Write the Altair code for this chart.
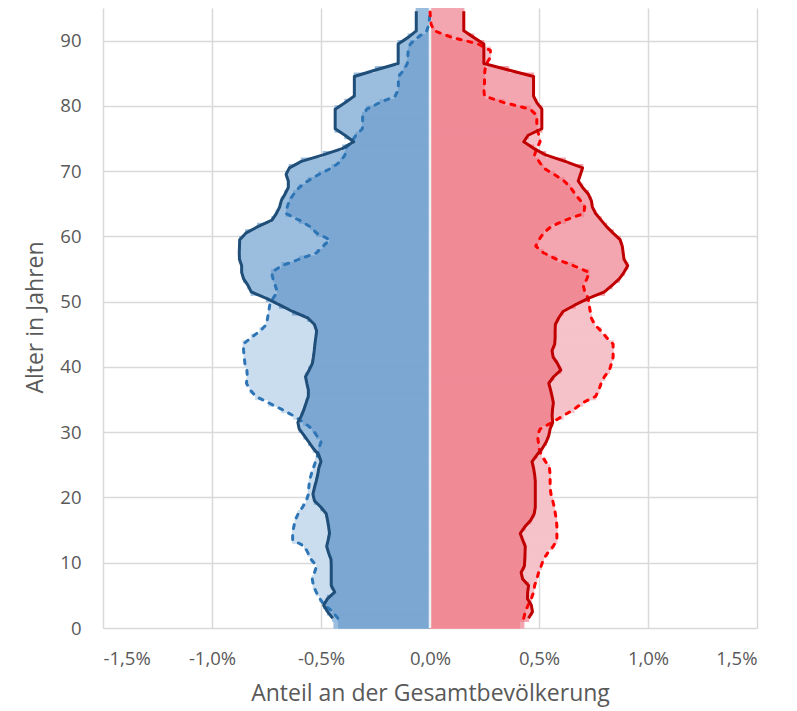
import altair as alt
import pandas as pd

ages = list(range(95))

# Anteil an der Gesamtbevölkerung in %, Alter 0..94
maenner_aktuell = [
    0.44, 0.446, 0.47, 0.488, 0.47, 0.437, 0.453, 0.453, 0.453, 0.453,
    0.454, 0.465, 0.474, 0.467, 0.461, 0.465, 0.47, 0.476, 0.50, 0.53,
    0.537, 0.53, 0.522, 0.515, 0.51, 0.50, 0.51, 0.535, 0.556, 0.578,
    0.60, 0.606, 0.59, 0.578, 0.568, 0.558, 0.558, 0.565, 0.571, 0.555,
    0.54, 0.535, 0.531, 0.528, 0.524, 0.52, 0.53, 0.56, 0.63, 0.69,
    0.75, 0.82, 0.835, 0.855, 0.864, 0.864, 0.874, 0.875, 0.874, 0.873,
    0.845, 0.79, 0.725, 0.705, 0.69, 0.682, 0.665, 0.65, 0.65, 0.66,
    0.645, 0.59, 0.49, 0.40, 0.35, 0.39, 0.435, 0.435, 0.435, 0.435,
    0.39, 0.347, 0.347, 0.347, 0.347, 0.25, 0.146, 0.146, 0.146, 0.146,
    0.10, 0.063, 0.063, 0.063, 0.063,
]
maenner_frueher = [
    0.42, 0.423, 0.446, 0.485, 0.505, 0.522, 0.535, 0.54, 0.53, 0.52,
    0.545, 0.56, 0.575, 0.63, 0.63, 0.625, 0.618, 0.605, 0.585, 0.567,
    0.558, 0.556, 0.553, 0.545, 0.535, 0.525, 0.515, 0.51, 0.50, 0.52,
    0.54, 0.58, 0.625, 0.68, 0.74, 0.80, 0.825, 0.842, 0.838, 0.84,
    0.849, 0.852, 0.855, 0.857, 0.82, 0.78, 0.75, 0.745, 0.74, 0.735,
    0.72, 0.70, 0.71, 0.72, 0.727, 0.68, 0.60, 0.52, 0.49, 0.46,
    0.52, 0.55, 0.60, 0.66, 0.655, 0.645, 0.625, 0.60, 0.56, 0.51,
    0.45, 0.41, 0.39, 0.387, 0.36, 0.34, 0.31, 0.309, 0.309, 0.29,
    0.23, 0.16, 0.145, 0.145, 0.145, 0.12, 0.104, 0.102, 0.10, 0.09,
    0.055, 0.015, 0.005, 0.002, 0.0,
]
frauen_aktuell = [
    0.43, 0.452, 0.47, 0.465, 0.447, 0.448, 0.452, 0.425, 0.418, 0.433,
    0.435, 0.436, 0.437, 0.425, 0.414, 0.435, 0.462, 0.478, 0.483, 0.483,
    0.483, 0.483, 0.483, 0.48, 0.475, 0.468, 0.49, 0.515, 0.533, 0.545,
    0.551, 0.563, 0.56, 0.562, 0.566, 0.56, 0.553, 0.545, 0.567, 0.60,
    0.585, 0.565, 0.56, 0.572, 0.574, 0.574, 0.575, 0.59, 0.61, 0.665,
    0.726, 0.80, 0.835, 0.868, 0.89, 0.907, 0.89, 0.886, 0.882, 0.872,
    0.84, 0.81, 0.785, 0.76, 0.745, 0.74, 0.726, 0.70, 0.68, 0.69,
    0.70, 0.62, 0.53, 0.475, 0.43, 0.45, 0.513, 0.513, 0.513, 0.513,
    0.49, 0.475, 0.475, 0.475, 0.475, 0.36, 0.247, 0.247, 0.247, 0.247,
    0.20, 0.155, 0.155, 0.155, 0.155,
]
frauen_frueher = [
    0.41, 0.43, 0.437, 0.45, 0.465, 0.475, 0.48, 0.49, 0.498, 0.51,
    0.52, 0.54, 0.565, 0.582, 0.582, 0.582, 0.58, 0.575, 0.57, 0.563,
    0.555, 0.551, 0.551, 0.551, 0.548, 0.53, 0.51, 0.50, 0.497, 0.493,
    0.505, 0.56, 0.61, 0.66, 0.70, 0.76, 0.775, 0.785, 0.80, 0.823,
    0.832, 0.84, 0.84, 0.84, 0.81, 0.785, 0.755, 0.74, 0.735, 0.73,
    0.726, 0.71, 0.703, 0.72, 0.73, 0.66, 0.58, 0.52, 0.485, 0.50,
    0.52, 0.555, 0.62, 0.705, 0.71, 0.69, 0.665, 0.645, 0.615, 0.57,
    0.52, 0.50, 0.48, 0.49, 0.505, 0.50, 0.49, 0.49, 0.49, 0.46,
    0.34, 0.25, 0.247, 0.25, 0.25, 0.252, 0.26, 0.277, 0.277, 0.22,
    0.10, 0.02, 0.005, 0.002, 0.0,
]

x_ticks = [-1.5, -1.0, -0.5, 0.0, 0.5, 1.0, 1.5]
y_ticks = [0, 10, 20, 30, 40, 50, 60, 70, 80, 90]

rows = []
for i, a in enumerate(ages):
    rows.append(dict(age=a, sex="m", cur=-maenner_aktuell[i], old=-maenner_frueher[i]))
    rows.append(dict(age=a, sex="w", cur=frauen_aktuell[i], old=frauen_frueher[i]))
df = pd.DataFrame(rows)

FONT = "Open Sans"
GREY = "#595959"

xscale = alt.Scale(domain=[-1.5, 1.5], nice=False, zero=False)
yscale = alt.Scale(domain=[0, 95], nice=False, zero=False)
xaxis = alt.Axis(
    values=x_ticks,
    labelExpr="(datum.value < 0 ? '-' : '') + replace(format(abs(datum.value), '.1f'), '.', ',') + '%'",
    title="Anteil an der Gesamtbevölkerung",
    titleY=65, titleBaseline="middle",
    labelPadding=21,
)
yaxis = alt.Axis(
    values=y_ticks, format="d",
    title="Alter in Jahren",
    titleX=-68, titleY=309, titleAlign="center", titleBaseline="middle",
    labelPadding=22,
)


def X(field):
    return alt.X(field, type="quantitative", scale=xscale, axis=xaxis)


def Y(field):
    return alt.Y(field, type="quantitative", scale=yscale, axis=yaxis)


def sexcolor(cm, cw):
    return alt.condition(alt.datum.sex == "m", alt.value(cm), alt.value(cw))


base = alt.Chart(df).transform_calculate(
    y0="datum.age",
    y1="datum.age + 1",
    mid="datum.age + 0.5",
    ov="(datum.sex == 'm' ? -1 : 1) * min(abs(datum.cur), abs(datum.old))",
)

SW = 1.3
bar_cur = base.mark_rect(strokeWidth=SW).encode(
    x=X("cur"), x2=alt.datum(0), y=Y("y0"), y2="y1",
    color=sexcolor("#9BBDDE", "#F3A6B0"), stroke=sexcolor("#9BBDDE", "#F3A6B0"),
)
bar_old = base.mark_rect(strokeWidth=SW).encode(
    x=X("old"), x2=alt.datum(0), y=Y("y0"), y2="y1",
    color=sexcolor("#CADDEF", "#F6C2CA"), stroke=sexcolor("#CADDEF", "#F6C2CA"),
)
bar_ov = base.mark_rect(strokeWidth=SW).encode(
    x=X("ov"), x2=alt.datum(0), y=Y("y0"), y2="y1",
    color=sexcolor("#7BA7D2", "#F08B96"), stroke=sexcolor("#7BA7D2", "#F08B96"),
)

divider = alt.Chart(pd.DataFrame({"v": [0.0]})).mark_rule(
    color="#EEF1F4", strokeWidth=2.5
).encode(x=alt.X("v:Q", scale=xscale, axis=xaxis), y=alt.datum(0), y2=alt.datum(95))


def line(sex, field, color, dashed):
    props = dict(color=color, strokeWidth=3, strokeJoin="round")
    if dashed:
        props.update(strokeDash=[4, 7], strokeCap="round")
    return base.transform_filter(
        (alt.datum.sex == sex) & (alt.datum.age >= 1)
    ).mark_line(**props).encode(x=X(field), y=Y("mid"), order="age:Q")


chart = alt.layer(
    bar_cur, bar_old, bar_ov, divider,
    line("m", "old", "#2E75B6", True),
    line("w", "old", "#FF0000", True),
    line("m", "cur", "#1F4E79", False),
    line("w", "cur", "#C00000", False),
).properties(
    width=654, height=620,
    autosize=alt.AutoSizeParams(type="none"),
    padding={"left": 95, "top": 0, "right": 32, "bottom": 82},
).configure_view(stroke=None).configure_axis(
    grid=True, gridColor="#D9D9D9", gridWidth=1.5,
    domain=False, ticks=False,
    labelFont=FONT, labelFontSize=18.5, labelColor=GREY,
    titleFont=FONT, titleFontSize=23, titleColor=GREY, titleFontWeight="normal",
)

chart.save("out.html", embed_options={"renderer": "svg", "actions": False})
